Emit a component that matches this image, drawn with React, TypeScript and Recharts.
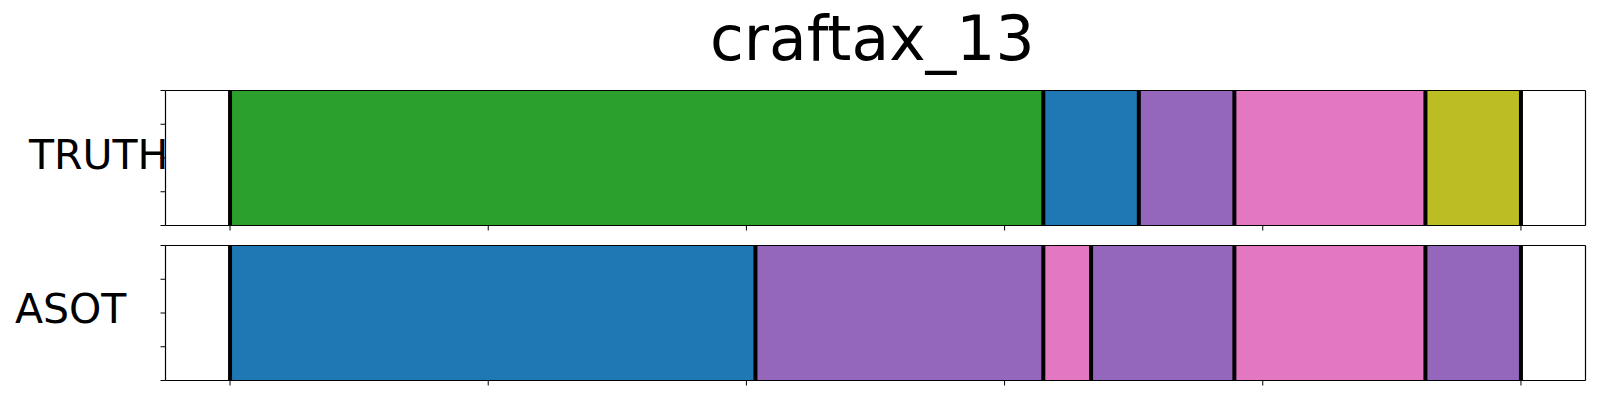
import { Bar, BarChart, LineChart, ReferenceLine, XAxis, YAxis } from 'recharts'

const title = 'craftax_13'
const rowLabels = ['TRUTH', 'ASOT']

// segment lengths (x units 0..100) and their class index per row
const truthSegments = [63.0, 7.4, 7.4, 14.8, 7.4]
const truthClasses = [2, 0, 4, 6, 8]
const asotSegments = [40.7, 22.3, 3.7, 11.1, 14.8, 7.4]
const asotClasses = [0, 4, 6, 4, 6, 4]

const xDomain = [-5, 105]
const yDomain = [0, 4]
const xTicks = [0, 20, 40, 60, 80, 100]
const yTicks = [0, 1, 2, 3, 4]

const palette = [
  '#1f77b4', '#ff7f0e', '#2ca02c', '#d62728', '#9467bd',
  '#8c564b', '#e377c2', '#7f7f7f', '#bcbd22', '#17becf',
]

const font = '"DejaVu Sans", sans-serif'
const noLabel = () => ''
const spine = { stroke: '#000', strokeWidth: 1.2 }
const W = 1600
const H = 145.5

// frame + ticks drawn by a second, transparent chart on top of the bars
function Frame() {
  const extent = [
    { x: xDomain[0], y: yDomain[0] },
    { x: xDomain[1], y: yDomain[1] },
  ]
  return (
    <LineChart
      width={W}
      height={H}
      data={extent}
      margin={{ top: 4.5, right: 13.5, bottom: 0, left: 164.5 }}
    >
      <XAxis
        dataKey="x"
        type="number"
        domain={xDomain}
        ticks={xTicks}
        tickFormatter={noLabel}
        tickSize={5}
        height={5}
        axisLine={spine}
        tickLine={{ stroke: '#000' }}
      />
      <XAxis
        xAxisId="top"
        orientation="top"
        dataKey="x"
        type="number"
        domain={xDomain}
        tick={false}
        tickLine={false}
        height={1}
        axisLine={spine}
      />
      <YAxis
        dataKey="y"
        type="number"
        domain={yDomain}
        ticks={yTicks}
        interval={0}
        tickFormatter={noLabel}
        tickSize={5}
        width={1}
        axisLine={spine}
        tickLine={{ stroke: '#000' }}
      />
      <YAxis
        yAxisId="right"
        orientation="right"
        dataKey="y"
        type="number"
        domain={yDomain}
        tick={false}
        tickLine={false}
        width={1}
        axisLine={spine}
      />
    </LineChart>
  )
}

function SegmentRow({
  label,
  segments,
  classes,
  top,
}: {
  label: string
  segments: number[]
  classes: number[]
  top: number
}) {
  const row: Record<string, string | number> = { name: label }
  segments.forEach((v, i) => {
    row[`s${i}`] = v
  })
  const bounds = [0]
  segments.forEach((v) => bounds.push(+(bounds[bounds.length - 1] + v).toFixed(2)))

  return (
    <>
      <div style={{ position: 'absolute', left: 0, top }}>
        <BarChart
          width={W}
          height={H}
          data={[row]}
          layout="vertical"
          barCategoryGap={0}
          margin={{ top: 5.5, right: 14.5, bottom: 5, left: 165.5 }}
        >
          <XAxis type="number" domain={xDomain} hide height={0} allowDataOverflow />
          <YAxis type="category" dataKey="name" hide width={0} />
          {segments.map((_, i) => (
            <Bar
              key={i}
              dataKey={`s${i}`}
              stackId="a"
              fill={palette[classes[i]]}
              isAnimationActive={false}
            />
          ))}
          {bounds.map((b, i) => (
            <ReferenceLine key={i} x={b} stroke="#000" strokeWidth={4} />
          ))}
        </BarChart>
      </div>
      <div style={{ position: 'absolute', left: 0, top }}>
        <Frame />
      </div>
    </>
  )
}

export default function App() {
  return (
    <div
      style={{
        position: 'absolute',
        left: 0,
        top: 0,
        width: 1600,
        height: 400,
        background: '#fff',
        fontFamily: font,
      }}
    >
      <div
        style={{
          position: 'absolute',
          left: 710,
          top: 3,
          fontSize: 61.5,
          lineHeight: 'normal',
          whiteSpace: 'nowrap',
        }}
      >
        {title}
      </div>
      <div style={{ position: 'absolute', left: 29, top: 131, fontSize: 41 }}>
        {rowLabels[0]}
      </div>
      <div style={{ position: 'absolute', left: 15, top: 285, fontSize: 41 }}>
        {rowLabels[1]}
      </div>
      <SegmentRow label={rowLabels[0]} segments={truthSegments} classes={truthClasses} top={85} />
      <SegmentRow label={rowLabels[1]} segments={asotSegments} classes={asotClasses} top={240} />
    </div>
  )
}
